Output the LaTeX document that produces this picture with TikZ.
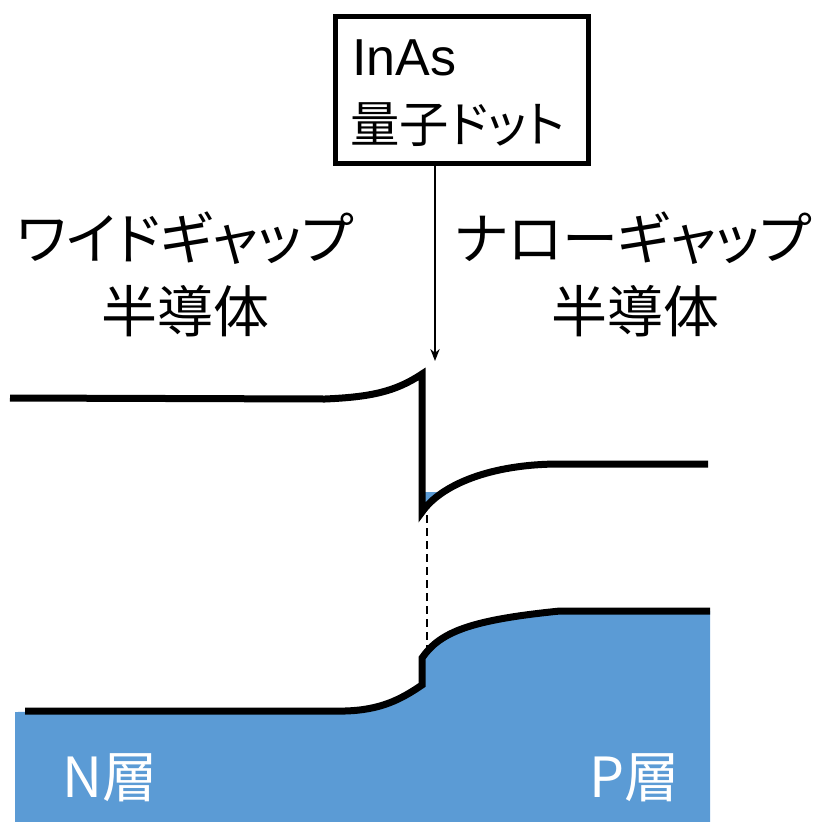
\documentclass[tikz,border=0pt]{standalone}
\usepackage{fontspec}
\setmainfont{Liberation Sans}
\newfontfamily\jp{Noto Sans CJK JP}[RawFeature=+palt]
\usetikzlibrary{arrows.meta}
\definecolor{fillblue}{HTML}{5B9BD5}
\begin{document}
\begin{tikzpicture}[x=0.75pt,y=-0.75pt,
  band/.style={line width=5.25pt, line join=miter},
  lbl/.style={inner sep=0pt, anchor=base, font=\jp\fontsize{42}{42}\selectfont},
  layer/.style={inner sep=0pt, anchor=base west, text=white, font=\jp\fontsize{41.5}{41.5}\selectfont},
  qdbox/.style={draw, line width=3.75pt, inner sep=0pt, minimum width=189.75pt, minimum height=110.25pt, anchor=north west},
  thinarrow/.style={-{Stealth[length=9pt,width=7pt]}, line width=1.1pt},
  dashline/.style={line width=1.1pt, dash pattern=on 6pt off 3.75pt}]
\useasboundingbox (0,0) rectangle (817,822);
% blue filled regions
\fill[fillblue] (15,712) -- (345,711) .. controls (380,710) and (400,700) .. (422,685)
  -- (422,658) .. controls (440,632) and (470,620) .. (560,611) -- (710,611)
  -- (710,822) -- (15,822) -- cycle;
\fill[fillblue] (422,492) -- (441,492) -- (422,512) -- cycle;
% conduction band
\draw[band] (10,398) -- (325,399) .. controls (370,397) and (395,392) .. (422,374)
  -- (422,512) .. controls (441,485) and (490,464) .. (560,464) -- (708,464);
% valence band
\draw[band] (25,711) -- (345,711) .. controls (380,710) and (400,700) .. (422,685)
  -- (422,658) .. controls (440,632) and (470,620) .. (560,611) -- (710,611);
% quantum dot box
\node[qdbox] (qd) at (333,14) {};
\node[inner sep=0pt, anchor=base west, font=\fontsize{39}{39}\selectfont] (inas) at (352,75) {InAs};
\node[inner sep=0pt, anchor=base west, font=\jp\fontsize{37}{37}\selectfont] (qdt) at (350,142) {量子ドット};
\coordinate (tip) at (435,361);
\draw[thinarrow] (qd.south -| tip) -- (tip);
% dashed line
\coordinate (d1) at (427,515);
\coordinate (d2) at (427,652);
\draw[dashline] (d1) -- (d2);
% labels
\node[lbl] (wide1) at (185,259) {ワイドギャップ};
\node[lbl] (wide2) at (185,332) {半導体};
\node[lbl] (narrow1) at (633,259) {ナローギャップ};
\node[lbl] (narrow2) at (635,332) {半導体};
\node[layer] (nlayer) at (62,797) {N層};
\node[layer] (player) at (589,797) {P層};
\end{tikzpicture}
\end{document}
